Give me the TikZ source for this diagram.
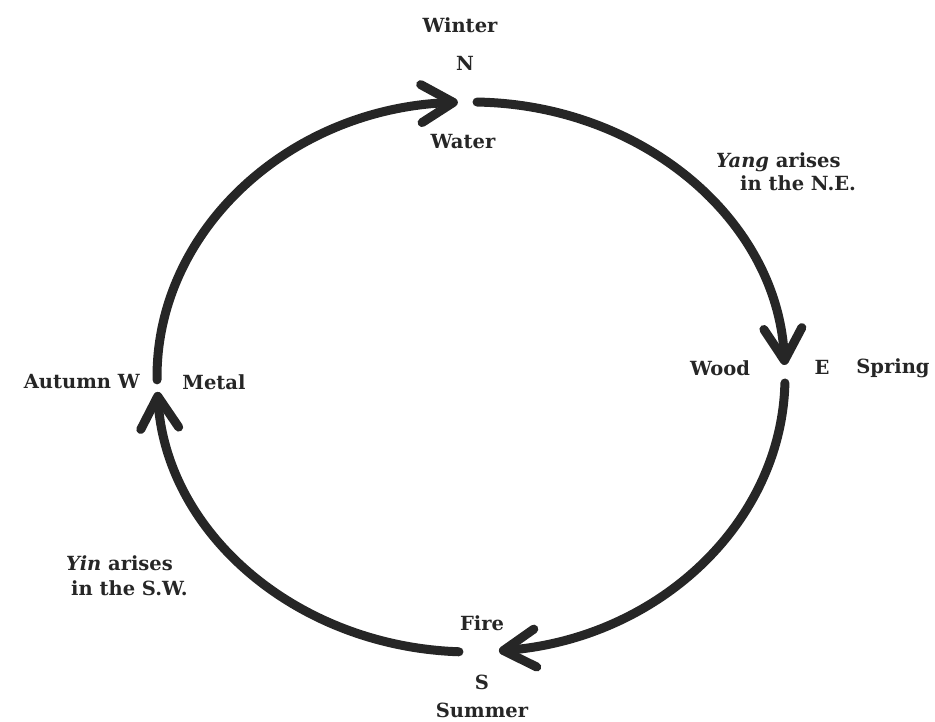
\documentclass[tikz,border=0pt]{standalone}
\usepackage{fontspec}
\setmainfont{DejaVu Serif}
\usetikzlibrary{arrows.meta}
\definecolor{ink}{HTML}{262626}
\begin{document}
\begin{tikzpicture}[x=1pt,y=1pt,
  loop/.style={line width=9pt, draw=ink, line cap=round,
    -{Straight Barb[round,length=32pt,width=38pt]}},
  lbl/.style={font=\fontsize{19.5}{23}\selectfont\bfseries, text=ink, inner sep=0pt},
]
\useasboundingbox (0,0) rectangle (935,722);
\coordinate (c) at (471,345);
\path (c) ++(180.6:314 and 275) coordinate (w1);
\path (c) ++(88.9:314 and 275) coordinate (n1);
\path (c) ++(-1.25:314 and 275) coordinate (e1);
\path (c) ++(267.8:314 and 275) coordinate (s1);
% arcs (clockwise)
\draw[loop] (w1) arc[start angle=180.6, end angle=92.4, x radius=314, y radius=275];
\draw[loop] (n1) arc[start angle=88.9, end angle=2.5, x radius=314, y radius=275];
\draw[loop] (e1) arc[start angle=-1.25, end angle=-84.9, x radius=314, y radius=275];
\draw[loop] (s1) arc[start angle=267.8, end angle=183.1, x radius=314, y radius=275];
% labels
\node[lbl] (winter) at (460,697) {Winter};
\node[lbl] (north) at (465,659) {N};
\node[lbl] (water) at (463,580) {Water};
\node[lbl,anchor=west] (yang1) at (716,560) {\textit{Yang} arises};
\node[lbl,anchor=west] (yang2) at (740,539) {in the N.E.};
\node[lbl] (wood) at (720,354) {Wood};
\node[lbl] (east) at (822,355) {E};
\node[lbl] (spring) at (893,354) {Spring};
\node[lbl,anchor=east] (autumn) at (140,340) {Autumn W};
\node[lbl] (metal) at (214,340) {Metal};
\node[lbl,anchor=west] (yin1) at (66,159) {\textit{Yin} arises};
\node[lbl,anchor=west] (yin2) at (71,134) {in the S.W.};
\node[lbl] (fire) at (482,99) {Fire};
\node[lbl] (south) at (482,40) {S};
\node[lbl] (summer) at (482,12) {Summer};
\end{tikzpicture}
\end{document}
